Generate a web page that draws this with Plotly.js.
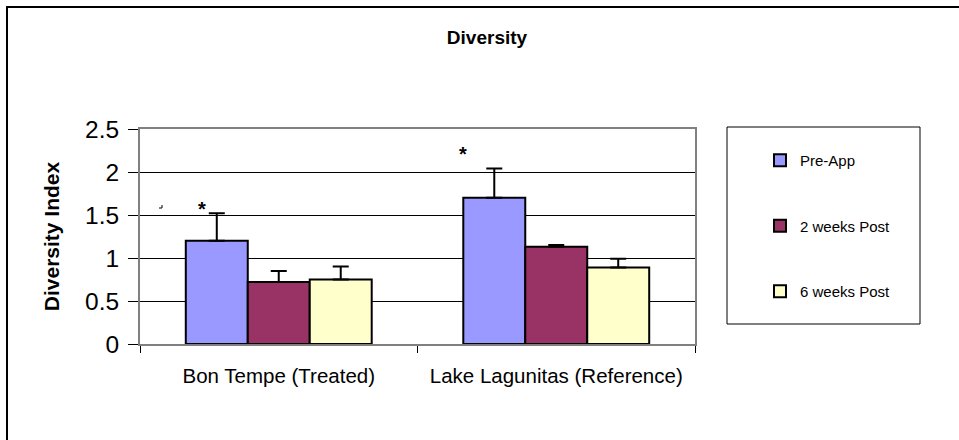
<!DOCTYPE html>
<html>
<head>
<meta charset="utf-8">
<script src="https://cdn.plot.ly/plotly-3.0.1.min.js"></script>
<style>html,body{margin:0;padding:0;background:#fff;}#chart{width:959px;height:440px;}</style>
</head>
<body>
<div id="chart"></div>
<script>
const categories = ["Bon Tempe (Treated)", "Lake Lagunitas (Reference)"];
const seriesNames = ["Pre-App", "2 weeks Post", "6 weeks Post"];
const preApp = [1.2, 1.7];
const twoWeeks = [0.72, 1.13];
const sixWeeks = [0.75, 0.89];
const preAppErr = [0.32, 0.34];
const twoWeeksErr = [0.13, 0.02];
const sixWeeksErr = [0.15, 0.10];
const yTickVals = [0, 0.5, 1, 1.5, 2, 2.5];
const yTickText = ["0", "0.5", "1", "1.5", "2", "2.5"];
const starY = [1.6, 2.25];

const FONT = "Liberation Sans, Arial, sans-serif";
const colors = ["#9999FF", "#993366", "#FFFFCC"];
const values = [preApp, twoWeeks, sixWeeks];
const errs = [preAppErr, twoWeeksErr, sixWeeksErr];

const L = 140, R = 695, T = 129, B = 344;
const W = 959, H = 440;
const px = x => (x - L) / (R - L);
const py = y => (B - y) / (B - T);

const traces = seriesNames.map((name, i) => ({
  type: "bar",
  name: name,
  x: categories,
  y: values[i],
  legendgroup: "g" + i,
  marker: {color: colors[i], line: {color: "#000", width: 2}},
  error_y: {type: "data", array: errs[i], arrayminus: errs[i].map(() => 0), symmetric: false,
            color: "#000", thickness: 2, width: 8},
  hoverinfo: "x+y+name"
}));

const layout = {
  width: W, height: H,
  margin: {l: L, r: W - R, t: T, b: H - B, pad: 0},
  paper_bgcolor: "#fff",
  plot_bgcolor: "#fff",
  font: {family: FONT, color: "#000"},
  barmode: "group",
  bargap: 0.33,
  bargroupgap: 0,
  title: {text: "<b>Diversity</b>", font: {size: 19, family: FONT, color: "#000"},
          x: 487 / W, xanchor: "center", y: 1 - 37 / H, yanchor: "middle"},
  xaxis: {
    type: "category",
    tickson: "boundaries",
    ticks: "outside", ticklen: 7, tickcolor: "#000", tickwidth: 1,
    showline: true, linecolor: "#808080", linewidth: 2, mirror: true,
    showgrid: false,
    tickfont: {size: 20.5, family: FONT, color: "#000"},
    ticklabelstandoff: 12,
    fixedrange: true
  },
  yaxis: {
    range: [0, 2.5],
    tickvals: yTickVals, ticktext: yTickText,
    ticks: "outside", ticklen: 10, tickcolor: "#000", tickwidth: 1,
    showline: true, linecolor: "#808080", linewidth: 2, mirror: true,
    showgrid: true, gridcolor: "#000", gridwidth: 1,
    zeroline: false,
    tickfont: {size: 24.5, family: FONT, color: "#000"},
    ticklabelstandoff: 4,
    title: {text: "<b>Diversity Index</b>", font: {size: 21, family: FONT, color: "#000"}, standoff: 20},
    automargin: true,
    fixedrange: true
  },
  showlegend: true,
  legend: {
    x: px(760), xanchor: "left",
    y: py(144), yanchor: "top",
    bgcolor: "rgba(0,0,0,0)",
    borderwidth: 0,
    font: {size: 15, family: FONT, color: "#000"},
    traceorder: "grouped",
    tracegroupgap: 43,
    itemclick: false, itemdoubleclick: false
  },
  shapes: [
    {type: "rect", xref: "paper", yref: "paper",
     x0: px(7), x1: px(965), y0: py(446), y1: py(7),
     line: {color: "#000", width: 2}, fillcolor: "rgba(0,0,0,0)", layer: "above"},
    {type: "rect", xref: "paper", yref: "paper",
     x0: px(727), x1: px(920), y0: py(324), y1: py(127),
     line: {color: "#000", width: 1}, fillcolor: "rgba(0,0,0,0)", layer: "below"},
    {type: "path", xref: "paper", yref: "paper",
     path: "M " + px(159) + " " + py(208) + " L " + px(162) + " " + py(208) + " L " + px(162) + " " + py(205),
     line: {color: "#000", width: 1}}
  ],
  annotations: [
    {x: categories[0], y: starY[0], xref: "x", yref: "y", text: "<b>*</b>", showarrow: false,
     xshift: -77, yshift: -3, font: {size: 20, family: FONT, color: "#000"}},
    {x: categories[1], y: starY[1], xref: "x", yref: "y", text: "<b>*</b>", showarrow: false,
     xshift: -93, yshift: -3, font: {size: 20, family: FONT, color: "#000"}}
  ]
};

Plotly.newPlot("chart", traces, layout, {displayModeBar: false, staticPlot: false});
</script>
</body>
</html>
